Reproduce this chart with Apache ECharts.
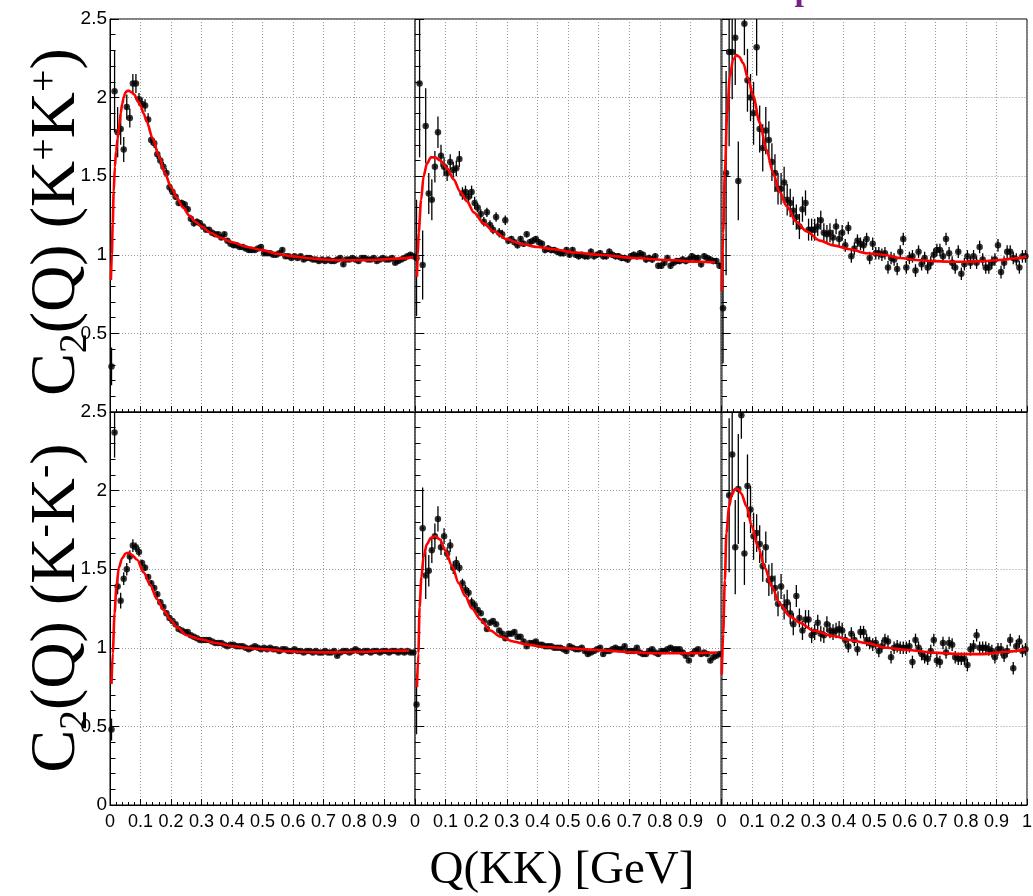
<!DOCTYPE html>
<html><head><meta charset="utf-8">
<script src="https://cdn.jsdelivr.net/npm/echarts@6/dist/echarts.min.js"></script>
<style>html,body{margin:0;padding:0;background:#fff}#c{width:1033px;height:896px}</style>
</head><body><div id="c"></div>
<script>
// ---------- data ----------
const binWidth = 0.01;
const xTickLabels = ['0','0.1','0.2','0.3','0.4','0.5','0.6','0.7','0.8','0.9','1'];
const yTickLabels = ['0','0.5','1','1.5','2','2.5'];
const xTitle = 'Q(KK) [GeV]';
const yTitleTop = '{b|C}{s|2}{b|(Q) (K}{p|+}{b|K}{p|+}{b|)}';
const yTitleBottom = '{b|C}{s|2}{b|(Q) (K}{p|-}{b|K}{p|-}{b|)}';

// top-left  K+K+
const tlVal = [0.29,2.04,1.78,1.80,1.67,1.94,1.87,2.09,2.09,1.99,
1.96,1.95,1.86,1.73,1.71,1.64,1.60,1.56,1.52,1.43,
1.40,1.37,1.33,1.33,1.32,1.29,1.23,1.20,1.21,1.20,
1.18,1.16,1.16,1.14,1.13,1.13,1.11,1.13,1.09,1.07,
1.06,1.06,1.05,1.05,1.04,1.03,1.03,1.03,1.04,1.05,
1.01,1.01,1.01,1.00,1.00,1.01,1.03,0.99,0.99,0.98,
0.99,0.98,0.99,0.97,0.98,0.98,0.97,0.97,0.96,0.97,
0.96,0.97,0.96,0.96,0.97,0.98,0.94,0.97,0.97,0.98,
0.97,0.96,0.98,0.98,0.97,0.97,0.98,0.96,0.97,0.98,
0.97,0.97,0.98,0.95,0.96,0.97,0.98,0.99,1.00,0.99];
const tlErr = [0.12,0.26,0.16,0.10,0.08,0.08,0.06,0.06,0.06,0.04,
0.04,0.04,0.04,0.03,0.03,0.03,0.03,0.03,0.03,0.03,
0.02,0.02,0.02,0.02,0.02,0.02,0.02,0.02,0.02,0.02,
0.015,0.015,0.015,0.015,0.015,0.015,0.015,0.015,0.015,0.015,
0.015,0.015,0.015,0.015,0.015,0.015,0.015,0.015,0.015,0.015,
0.015,0.015,0.015,0.015,0.015,0.015,0.015,0.015,0.015,0.015,
0.015,0.015,0.015,0.015,0.015,0.015,0.015,0.015,0.015,0.015,
0.015,0.015,0.015,0.015,0.015,0.015,0.015,0.015,0.015,0.015,
0.015,0.015,0.015,0.015,0.015,0.015,0.015,0.015,0.015,0.015,
0.015,0.015,0.015,0.015,0.015,0.015,0.015,0.015,0.015,0.015];
const tlFit = [[0.003,0.84],[0.006,1.0],[0.009,1.2],[0.012,1.4],[0.016,1.56],[0.02,1.66],[0.025,1.74],[0.03,1.82],[0.035,1.9],[0.04,1.96],
[0.045,2.0],[0.05,2.03],[0.055,2.04],[0.06,2.045],[0.065,2.04],[0.07,2.035],[0.08,2.02],[0.09,1.98],[0.1,1.95],[0.11,1.9],
[0.12,1.85],[0.14,1.74],[0.16,1.63],[0.18,1.52],[0.2,1.43],[0.22,1.36],[0.24,1.3],[0.26,1.25],[0.28,1.21],[0.3,1.18],
[0.33,1.14],[0.36,1.11],[0.4,1.08],[0.45,1.05],[0.5,1.03],[0.55,1.005],[0.6,0.99],[0.65,0.978],[0.7,0.97],[0.75,0.966],
[0.8,0.965],[0.85,0.967],[0.9,0.971],[0.95,0.977],[0.995,0.985]];

// top-middle K+K+
const tmVal = [0.98,2.09,0.935,1.82,1.39,1.35,1.56,1.78,1.63,1.56,
1.52,1.59,1.54,1.55,1.61,1.39,1.40,1.37,1.40,1.33,
1.30,1.26,1.21,1.27,1.19,1.16,1.24,1.14,1.13,1.22,
1.09,1.10,1.08,1.06,1.10,1.07,1.13,1.08,1.09,1.10,
1.08,1.07,1.03,1.04,1.03,1.03,1.02,1.01,1.01,1.03,
1.00,1.03,1.00,0.99,1.00,0.99,0.99,1.02,0.99,1.00,
1.01,0.99,0.99,1.02,1.00,0.99,0.99,0.98,0.98,0.97,
0.99,1.00,0.99,1.01,1.00,0.97,0.98,0.97,0.99,0.93,
0.93,0.95,0.98,0.93,0.95,0.96,0.96,0.97,0.96,0.97,
0.99,0.98,0.98,0.94,0.99,0.98,0.97,0.96,0.96,0.93];
const tmErr = [0.37,0.47,0.22,0.24,0.13,0.13,0.10,0.10,0.07,0.06,
0.05,0.05,0.05,0.05,0.05,0.04,0.04,0.04,0.04,0.04,
0.03,0.03,0.03,0.03,0.03,0.03,0.03,0.03,0.03,0.03,
0.02,0.02,0.02,0.02,0.02,0.02,0.02,0.02,0.02,0.02,
0.02,0.02,0.02,0.02,0.02,0.02,0.02,0.02,0.02,0.02,
0.02,0.02,0.02,0.02,0.02,0.02,0.02,0.02,0.02,0.02,
0.02,0.02,0.02,0.02,0.02,0.02,0.02,0.02,0.02,0.02,
0.02,0.02,0.02,0.02,0.02,0.02,0.02,0.02,0.02,0.02,
0.02,0.02,0.02,0.02,0.02,0.02,0.02,0.02,0.02,0.02,
0.02,0.02,0.02,0.02,0.02,0.02,0.02,0.02,0.02,0.02];
const tmFit = [[0.0065,0.86],[0.009,1.0],[0.012,1.14],[0.02,1.35],[0.028,1.5],[0.039,1.58],[0.052,1.62],[0.066,1.62],[0.083,1.6],[0.105,1.55],
[0.126,1.48],[0.148,1.4],[0.17,1.34],[0.192,1.27],[0.224,1.2],[0.257,1.15],[0.3,1.1],[0.344,1.07],[0.4,1.05],[0.453,1.035],
[0.52,1.015],[0.606,1.0],[0.715,0.98],[0.824,0.967],[0.932,0.956],[0.98,0.952]];

// top-right K+K+
const trVal = [0.66,1.52,2.29,2.29,2.38,1.47,null,2.47,2.11,2.00,
1.90,2.32,1.80,1.68,1.79,1.73,1.59,1.52,1.42,1.42,
1.46,1.35,1.33,1.28,1.24,1.18,1.29,1.33,1.16,1.16,
1.16,1.18,1.22,1.14,1.13,1.14,1.11,1.18,1.10,1.14,
1.06,1.17,0.99,1.04,1.09,1.07,1.06,1.10,0.98,1.07,
1.01,1.01,1.00,1.01,0.92,0.98,0.97,0.91,1.02,1.10,
0.92,0.98,0.99,0.90,1.02,0.94,0.98,0.92,0.95,1.00,
1.03,1.03,0.99,1.10,1.01,0.95,0.92,1.02,0.88,0.94,
0.99,0.95,0.99,0.95,1.05,0.97,0.92,0.92,0.95,0.97,
1.06,0.89,0.95,1.02,1.02,0.98,0.97,0.92,0.99,0.99];
const trErr = [0.35,0.65,0.60,0.30,0.30,0.25,0,0.20,0.20,0.15,
0.20,0.18,0.15,0.15,0.15,0.12,0.12,0.12,0.10,0.10,
0.10,0.10,0.09,0.09,0.08,0.08,0.08,0.08,0.07,0.07,
0.07,0.06,0.06,0.06,0.06,0.06,0.05,0.05,0.05,0.05,
0.04,0.04,0.04,0.04,0.04,0.04,0.04,0.04,0.04,0.04,
0.04,0.04,0.04,0.04,0.04,0.04,0.04,0.04,0.04,0.04,
0.04,0.04,0.04,0.04,0.04,0.04,0.04,0.04,0.04,0.04,
0.04,0.04,0.04,0.04,0.04,0.04,0.04,0.04,0.04,0.04,
0.04,0.04,0.04,0.04,0.04,0.04,0.04,0.04,0.04,0.04,
0.04,0.04,0.04,0.04,0.04,0.04,0.04,0.04,0.04,0.04];
const trFit = [[0.001,0.77],[0.0055,1.14],[0.011,1.52],[0.0185,1.9],[0.027,2.13],[0.038,2.24],[0.049,2.27],[0.058,2.26],[0.071,2.22],[0.087,2.12],
[0.104,2.01],[0.125,1.84],[0.147,1.67],[0.169,1.52],[0.19,1.4],[0.213,1.31],[0.245,1.21],[0.278,1.15],[0.322,1.09],[0.366,1.06],
[0.42,1.035],[0.475,1.01],[0.53,1.0],[0.584,0.98],[0.638,0.967],[0.693,0.96],[0.747,0.956],[0.8,0.956],[0.857,0.96],[0.91,0.967],
[0.966,0.978],[0.998,0.99]];

// bottom-left K-K-
const blVal = [0.48,2.37,1.39,1.30,1.44,1.50,1.58,1.65,1.64,1.61,
1.54,1.51,1.45,1.41,1.38,1.34,1.29,1.26,1.22,1.19,
1.17,1.15,1.12,1.11,1.10,1.10,1.08,1.07,1.06,1.05,
1.05,1.05,1.05,1.04,1.03,1.03,1.03,1.02,1.01,1.02,
1.02,1.01,1.01,1.01,1.00,0.99,1.00,1.01,1.00,0.99,
1.00,0.99,1.00,0.99,0.99,0.98,0.99,0.99,0.98,0.98,
0.99,0.98,0.98,0.97,0.98,0.98,0.97,0.98,0.97,0.97,
0.98,0.97,0.97,0.98,0.95,0.97,0.98,0.98,0.97,0.98,
0.99,0.98,0.97,0.98,0.98,0.97,0.98,0.98,0.97,0.98,
0.98,0.97,0.98,0.98,0.97,0.98,0.97,0.98,0.97,0.97];
const blErr = [0.07,0.16,0.05,0.05,0.04,0.04,0.04,0.04,0.03,0.03,
0.02,0.02,0.02,0.02,0.02,0.02,0.02,0.02,0.02,0.02,
0.012,0.012,0.012,0.012,0.012,0.012,0.012,0.012,0.012,0.012,
0.012,0.012,0.012,0.012,0.012,0.012,0.012,0.012,0.012,0.012,
0.012,0.012,0.012,0.012,0.012,0.012,0.012,0.012,0.012,0.012,
0.012,0.012,0.012,0.012,0.012,0.012,0.012,0.012,0.012,0.012,
0.012,0.012,0.012,0.012,0.012,0.012,0.012,0.012,0.012,0.012,
0.012,0.012,0.012,0.012,0.012,0.012,0.012,0.012,0.012,0.012,
0.012,0.012,0.012,0.012,0.012,0.012,0.012,0.012,0.012,0.012,
0.012,0.012,0.012,0.012,0.012,0.012,0.012,0.012,0.012,0.012];
const blFit = [[0.005,0.77],[0.009,0.965],[0.015,1.22],[0.021,1.39],[0.029,1.51],[0.04,1.57],[0.051,1.6],[0.062,1.605],[0.072,1.59],[0.089,1.56],
[0.11,1.48],[0.132,1.4],[0.154,1.31],[0.176,1.24],[0.198,1.18],[0.22,1.13],[0.252,1.08],[0.296,1.054],[0.35,1.03],[0.405,1.01],
[0.46,0.997],[0.514,0.99],[0.568,0.98],[0.622,0.975],[0.677,0.971],[0.731,0.971],[0.786,0.973],[0.84,0.975],[0.895,0.98],[0.98,0.982]];

// bottom-middle K-K-
const bmVal = [0.64,null,1.76,1.46,1.49,1.62,1.71,1.82,1.64,1.71,
1.60,1.65,1.51,1.54,1.51,1.41,1.37,1.35,1.29,1.27,
1.24,1.22,1.17,1.12,1.16,1.17,1.15,1.11,1.09,1.06,
1.09,1.09,1.10,1.07,1.07,1.04,1.01,1.03,1.03,1.04,
1.02,1.02,1.01,1.01,1.01,1.00,1.00,1.00,0.99,0.98,
1.01,1.00,0.99,0.99,1.00,0.98,0.96,0.97,0.98,0.99,
1.00,0.96,0.98,0.98,0.99,1.00,0.99,0.99,1.01,0.98,
0.98,0.98,1.00,0.97,0.96,0.96,0.98,0.99,0.97,0.96,
0.98,0.98,0.99,1.00,0.99,0.99,0.99,0.97,0.95,0.92,
0.96,0.98,0.99,0.96,0.97,0.96,0.92,0.94,0.95,0.96];
const bmErr = [0.19,0,0.26,0.15,0.10,0.08,0.08,0.08,0.05,0.05,
0.04,0.04,0.04,0.04,0.03,0.03,0.03,0.03,0.03,0.03,
0.015,0.015,0.015,0.015,0.015,0.015,0.015,0.015,0.015,0.015,
0.015,0.015,0.015,0.015,0.015,0.015,0.015,0.015,0.015,0.015,
0.015,0.015,0.015,0.015,0.015,0.015,0.015,0.015,0.015,0.015,
0.015,0.015,0.015,0.015,0.015,0.015,0.015,0.015,0.015,0.015,
0.015,0.015,0.015,0.015,0.015,0.015,0.015,0.015,0.015,0.015,
0.015,0.015,0.015,0.015,0.015,0.015,0.015,0.015,0.015,0.015,
0.015,0.015,0.015,0.015,0.015,0.015,0.015,0.015,0.015,0.015,
0.015,0.015,0.015,0.015,0.015,0.015,0.015,0.015,0.015,0.015];
const bmFit = [[0.0065,0.75],[0.011,0.965],[0.015,1.26],[0.021,1.45],[0.028,1.58],[0.039,1.66],[0.052,1.7],[0.066,1.71],[0.081,1.69],[0.099,1.62],
[0.121,1.52],[0.143,1.41],[0.164,1.33],[0.186,1.25],[0.214,1.18],[0.246,1.11],[0.279,1.07],[0.322,1.04],[0.366,1.02],[0.42,1.007],
[0.497,0.997],[0.562,0.99],[0.627,0.982],[0.715,0.971],[0.78,0.965],[0.878,0.965],[0.987,0.969]];

// bottom-right K-K-
const brVal = [null,null,1.97,2.23,1.64,2.01,2.48,1.60,2.03,1.88,
1.71,1.73,1.66,1.52,1.64,1.43,1.44,1.38,1.28,1.39,
1.26,1.29,1.22,1.15,1.33,1.19,1.11,1.18,1.18,1.08,
1.10,1.16,1.09,1.08,1.15,1.11,1.10,1.11,1.12,1.11,
1.05,1.01,1.09,1.05,0.99,1.10,1.10,1.05,1.03,1.02,
1.03,0.98,1.01,1.05,1.04,0.94,1.00,1.01,1.00,1.00,
1.00,1.01,0.91,1.05,1.00,0.96,0.94,0.93,0.98,1.05,
0.92,0.91,1.03,0.97,1.03,1.02,0.94,0.93,0.93,0.93,
0.89,0.99,1.01,1.08,1.00,1.00,1.00,0.99,0.98,0.94,
0.99,0.99,0.95,0.98,1.05,0.87,1.01,1.04,0.98,0.99];
const brErr = [0,0,0.49,0.27,0.30,0.35,0.15,0.20,0.20,0.15,
0.15,0.12,0.12,0.10,0.10,0.10,0.10,0.08,0.08,0.08,
0.08,0.08,0.07,0.07,0.07,0.06,0.06,0.06,0.06,0.05,
0.05,0.05,0.05,0.05,0.05,0.05,0.05,0.05,0.05,0.05,
0.04,0.04,0.04,0.04,0.04,0.04,0.04,0.04,0.04,0.04,
0.04,0.04,0.04,0.04,0.04,0.04,0.04,0.04,0.04,0.04,
0.04,0.04,0.04,0.04,0.04,0.04,0.04,0.04,0.04,0.04,
0.04,0.04,0.04,0.04,0.04,0.04,0.04,0.04,0.04,0.04,
0.04,0.04,0.04,0.04,0.04,0.04,0.04,0.04,0.04,0.04,
0.04,0.04,0.04,0.04,0.04,0.04,0.04,0.04,0.04,0.04];
const brFit = [[0.001,0.83],[0.0055,1.09],[0.011,1.43],[0.016,1.73],[0.025,1.9],[0.033,1.97],[0.044,2.01],[0.055,2.01],[0.065,1.98],[0.082,1.9],
[0.098,1.78],[0.12,1.64],[0.142,1.51],[0.164,1.39],[0.191,1.28],[0.224,1.2],[0.256,1.16],[0.3,1.11],[0.366,1.075],[0.42,1.05],
[0.475,1.03],[0.54,1.0],[0.606,0.986],[0.693,0.969],[0.78,0.96],[0.857,0.96],[0.933,0.975],[0.996,0.99]];

// ---------- layout ----------
const panels = [
  {val: tlVal, err: tlErr, fit: tlFit, row: 0, col: 0},
  {val: tmVal, err: tmErr, fit: tmFit, row: 0, col: 1},
  {val: trVal, err: trErr, fit: trFit, row: 0, col: 2},
  {val: blVal, err: blErr, fit: blFit, row: 1, col: 0},
  {val: bmVal, err: bmErr, fit: bmFit, row: 1, col: 1},
  {val: brVal, err: brErr, fit: brFit, row: 1, col: 2}
];
const colLeft = [110, 415, 721.5], colWidth = [305, 306, 305.5];
const rowTop = [19, 412], rowHeight = 393;
const Y_MIN = 0, Y_MAX = 2.5;
const tickFont = "'Liberation Sans','Arimo',sans-serif";
const serif = "'Liberation Serif','DejaVu Serif',serif";

function lab(arr, v) {
  const s = String(+v.toFixed(3));
  return arr.indexOf(s) >= 0 ? s : '';
}

function renderErr(params, api) {
  const x = api.value(0), y = api.value(1), e = api.value(2);
  const p1 = api.coord([x, Math.min(y + e, Y_MAX)]);
  const p2 = api.coord([x, Math.max(y - e, Y_MIN)]);
  const h1 = api.coord([x - 0.004, y]), h2 = api.coord([x + 0.004, y]);
  return {type: 'group', children: [
    {type: 'line', shape: {x1: p1[0], y1: p1[1], x2: p2[0], y2: p2[1]}, style: {stroke: '#000', lineWidth: 1.3}},
    {type: 'line', shape: {x1: h1[0], y1: h1[1], x2: h2[0], y2: h2[1]}, style: {stroke: '#000', lineWidth: 1.3}}
  ]};
}

const grids = [], xAxes = [], yAxes = [], series = [];
panels.forEach((p, k) => {
  grids.push({left: colLeft[p.col], top: rowTop[p.row], width: colWidth[p.col], height: rowHeight,
    show: true, borderColor: '#000', borderWidth: 1, backgroundColor: 'transparent',
    containLabel: false, outerBoundsMode: 'none'});
  xAxes.push({type: 'value', gridIndex: k, min: 0, max: 1, interval: 0.1,
    axisLine: {show: true, onZero: false, lineStyle: {color: '#000', width: 1}},
    axisTick: {show: true, inside: true, length: 6, lineStyle: {color: '#000'}},
    minorTick: {show: true, splitNumber: 5, length: 3, lineStyle: {color: '#000'}},
    splitLine: {show: true, lineStyle: {color: '#999', type: [1, 2], width: 1}},
    axisLabel: {show: p.row === 1, margin: 8, fontSize: 18, color: '#000', fontFamily: tickFont,
      showMaxLabel: p.col === 2, showMinLabel: true, hideOverlap: false,
      formatter: v => lab(xTickLabels, v)}
  });
  yAxes.push({type: 'value', gridIndex: k, min: Y_MIN, max: Y_MAX, interval: 0.5,
    axisLine: {show: true, onZero: false, lineStyle: {color: p.col === 0 ? '#000' : '#666', width: p.col === 0 ? 1 : 1.5}},
    axisTick: {show: true, inside: true, length: 9, lineStyle: {color: '#000'}},
    minorTick: {show: true, splitNumber: 5, length: 5.5, lineStyle: {color: '#000'}},
    splitLine: {show: true, lineStyle: {color: '#999', type: [1, 2], width: 1}},
    axisLabel: {show: p.col === 0, margin: 3, fontSize: 19, color: '#000', fontFamily: tickFont,
      showMinLabel: p.row === 1, showMaxLabel: true,
      formatter: v => lab(yTickLabels, v)}
  });
  const pts = [], errs = [];
  p.val.forEach((v, i) => {
    if (v == null) return;
    const x = +(binWidth * (i + 0.5)).toFixed(4);
    pts.push([x, v]);
    errs.push([x, v, p.err[i]]);
  });
  series.push({type: 'custom', xAxisIndex: k, yAxisIndex: k, renderItem: renderErr, data: errs, clip: true, silent: true, z: 2});
  series.push({type: 'scatter', xAxisIndex: k, yAxisIndex: k, data: pts, symbol: 'circle', symbolSize: 6.5,
    itemStyle: {color: '#000'}, clip: true, silent: true, z: 3});
  series.push({type: 'line', xAxisIndex: k, yAxisIndex: k, data: p.fit, showSymbol: false, symbol: 'none',
    smooth: 0.3, smoothMonotone: 'x', lineStyle: {color: '#ff0000', width: 2.6}, clip: true, silent: true, z: 4});
});

const richStyle = {
  b: {fontSize: 64, fontFamily: serif, fill: '#000', color: '#000', lineHeight: 70, verticalAlign: 'top'},
  s: {fontSize: 40, fontFamily: serif, fill: '#000', color: '#000', verticalAlign: 'bottom', lineHeight: 40, padding: [46, 0, 0, 0]},
  p: {fontSize: 40, fontFamily: serif, fill: '#000', color: '#000', verticalAlign: 'top', lineHeight: 40}
};

const chart = echarts.init(document.getElementById('c'), null, {renderer: 'canvas', width: 1033, height: 896});
chart.setOption({
  animation: false,
  backgroundColor: '#fff',
  grid: grids, xAxis: xAxes, yAxis: yAxes, series: series,
  graphic: [
    {type: 'text', x: 60, y: 222, rotation: Math.PI / 2,
      style: {text: yTitleTop, rich: richStyle, align: 'center', verticalAlign: 'middle', fill: '#000'}},
    {type: 'text', x: 60, y: 608, rotation: Math.PI / 2,
      style: {text: yTitleBottom, rich: richStyle, align: 'center', verticalAlign: 'middle', fill: '#000'}},
    {type: 'text', x: 562, y: 871,
      style: {text: xTitle, font: "47px 'Liberation Serif', serif", align: 'center', verticalAlign: 'middle', fill: '#000'}},
    {type: 'text', x: 804, y: 8,
      style: {text: 'p', font: "bold 34px 'Liberation Serif', serif", align: 'center', verticalAlign: 'bottom', fill: '#7b1f8c'}}
  ]
});
</script>
</body></html>
